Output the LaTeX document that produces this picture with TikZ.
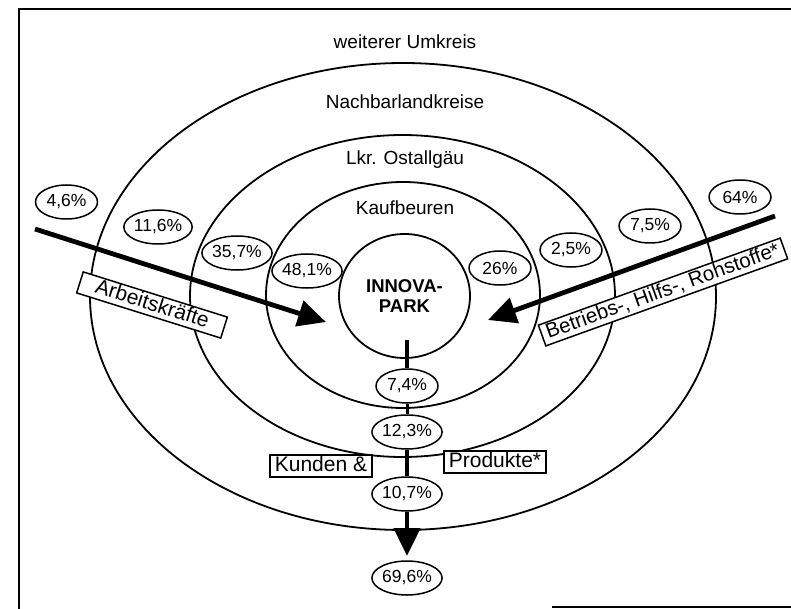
\documentclass[tikz,border=0pt]{standalone}
\usepackage{fontspec}
\setmainfont{Liberation Sans}
\usetikzlibrary{shapes.geometric,arrows.meta}
\begin{document}
\begin{tikzpicture}[x=1pt,y=-1pt,
  ring/.style={draw, ellipse, line width=1.8pt, inner sep=0pt},
  pct/.style={draw, ellipse, fill=white, line width=1.5pt, inner sep=0pt,
    minimum width=62pt, minimum height=34pt, font=\fontsize{17.5}{17.5}\selectfont},
  zone/.style={font=\fontsize{19}{20}\selectfont, inner sep=0pt},
  lbox/.style={draw, fill=white, line width=1.5pt, inner xsep=5pt, inner ysep=2pt,
    text height=14.5pt, text depth=3.5pt, font=\fontsize{21}{22}\selectfont},
  flow/.style={line width=4.8pt},
  flowtip/.style={flow, -{Triangle[length=28pt,width=26pt]}},
  frame/.style={line width=1.8pt}
]
\useasboundingbox (0,0) rectangle (791,609);
\fill[white] (0,0) rectangle (791,609);

% frame
\coordinate (f1) at (19,609);
\coordinate (f2) at (19,9);
\coordinate (f3) at (791,9);
\coordinate (f4) at (552,607);
\coordinate (f5) at (791,607);
\draw[frame] (f1) -- (f2) -- (f3);
\draw[frame] (f4) -- (f5);

% rings
\node[ring, minimum width=626pt, minimum height=467pt] (nach) at (403,296.5) {};
\node[ring, minimum width=425pt, minimum height=322pt] (ost) at (402.5,296) {};
\node[ring, minimum width=274pt, minimum height=226pt] (kauf) at (403,295) {};
\node[ring, minimum width=131pt, minimum height=124pt, align=center,
  font=\bfseries\fontsize{18.5}{20}\selectfont] (innova) at (404.5,296) {INNOVA-\\PARK};

% zone labels
\node[zone] (tw) at (405,42) {weiterer Umkreis};
\node[zone] (tn) at (405,102) {Nachbarlandkreise};
\node[zone] (tl) at (405,160) {Lkr. Ostallgäu};
\node[zone] (tk) at (405,208) {Kaufbeuren};

% incoming flows
\coordinate (aStart) at (35,229);
\coordinate (aEnd) at (326,322);
\draw[flowtip] (aStart) -- (aEnd);
\coordinate (bStart) at (775,216);
\coordinate (bEnd) at (488,320);
\draw[flowtip] (bStart) -- (bEnd);

\node[lbox, rotate=-17.4, minimum width=151pt] (arb) at (152,305) {Arbeitskräfte};
\node[lbox, rotate=19.8, minimum width=257pt, font=\fontsize{20.5}{22}\selectfont]
  (betr) at (663,292) {Betriebs-, Hilfs-, Rohstoffe*};

% percentages
\node[pct] (p46) at (66.5,202) {4,6\%};
\node[pct] (p116) at (158,227) {11,6\%};
\node[pct] (p357) at (237,253) {35,7\%};
\node[pct] (p481) at (307,271) {48,1\%};
\node[pct] (p26) at (500,268) {26\%};
\node[pct] (p25) at (571,250) {2,5\%};
\node[pct] (p75) at (650,226) {7,5\%};
\node[pct] (p64) at (740,197) {64\%};

% outgoing chain
\node[pct] (p74) at (407,386) {7,4\%};
\node[pct] (p123) at (407,432) {12,3\%};
\node[pct] (p107) at (407,494) {10,7\%};
\node[pct] (p696) at (407,578) {69,6\%};
\coordinate (d0) at (407,340);
\coordinate (dEnd) at (407,556);
\draw[flow] (d0) -- (p74);
\draw[flow, line width=3pt] (p74) -- (p123);
\draw[flow] (p123) -- (p107);
\draw[flowtip] (p107) -- (dEnd);

\node[lbox, minimum width=102pt] (kund) at (321,466) {Kunden \&};
\node[lbox, minimum width=100pt] (prod) at (495,462) {Produkte*};
\end{tikzpicture}
\end{document}
